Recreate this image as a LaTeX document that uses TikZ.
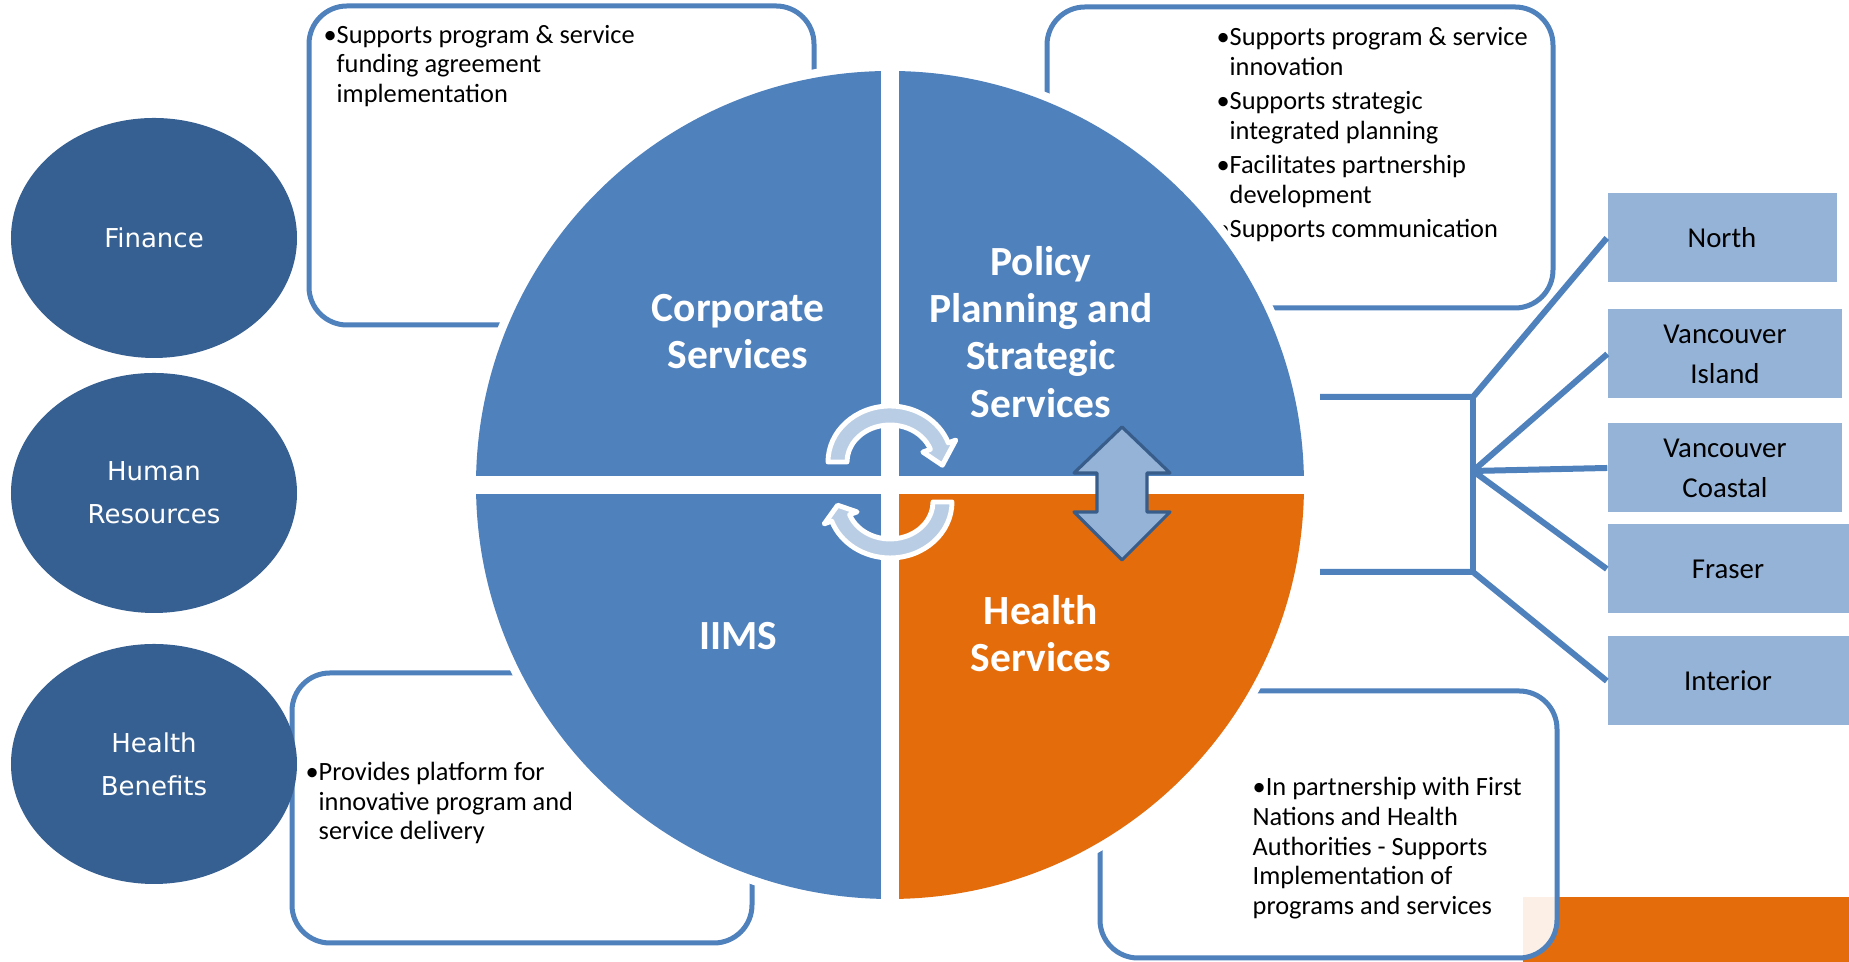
\documentclass[tikz,border=0pt]{standalone}
\usepackage{fontspec}
\setmainfont{Carlito}
\newfontfamily\ovalfont{DejaVu Sans}
\usetikzlibrary{shapes.geometric,calc}

\definecolor{quadblue}{HTML}{4F81BD}
\definecolor{quadorange}{HTML}{E46C0A}
\definecolor{ovalblue}{HTML}{376092}
\definecolor{regionblue}{HTML}{95B3D7}
\definecolor{arrowedge}{HTML}{385D8A}
\definecolor{cyclefill}{HTML}{B9CDE5}

\tikzset{
  infobox/.style={draw=quadblue, line width=0.05cm, rounded corners=0.38cm,
    fill=white, fill opacity=0.9, inner sep=0pt},
  bodytext/.style={anchor=north west, inner sep=0pt, align=left,
    font=\fontsize{7.5}{8.4}\selectfont},
  quadlabel/.style={text=white, align=center, inner sep=0pt,
    font=\fontsize{11.8}{13.4}\bfseries\selectfont},
  deptoval/.style={ellipse, fill=ovalblue, minimum width=2.86cm, minimum height=2.40cm,
    inner sep=0pt, text=white, align=center, font=\ovalfont\fontsize{7.4}{12.3}\selectfont},
  regionbox/.style={fill=regionblue, minimum height=0.89cm, inner sep=0pt, align=center,
    font=\fontsize{8.2}{11.4}\selectfont},
  link/.style={draw=quadblue, line width=0.06cm},
  cyclearrow/.style={fill=cyclefill, draw=white, line width=1.4pt, line join=round},
  swaparrow/.style={fill=regionblue, draw=arrowedge, line width=0.9pt, line join=round}
}

\begin{document}
\begin{tikzpicture}
  \useasboundingbox (0,0) rectangle (18.49,9.62);
  \fill[white] (0,0) rectangle (18.49,9.62);
  \fill[quadorange] (15.23,0) rectangle (18.49,0.65);

  % text boxes round the wheel
  \node[infobox, minimum width=5.05cm, minimum height=3.19cm] (corpbox) at (5.615,7.965) {};
  \node[infobox, minimum width=5.06cm, minimum height=3.01cm] (policybox) at (13.00,8.045) {};
  \node[infobox, minimum width=4.60cm, minimum height=2.70cm] (iimsbox) at (5.22,1.54) {};
  \node[infobox, minimum width=4.57cm, minimum height=2.67cm] (healthbox) at (13.285,1.375) {};

  \node[bodytext] (corptext) at (3.36,9.375)
    {\llap{•}Supports program \& service\\funding agreement\\implementation};
  \node[bodytext] (policytext) at (12.29,9.35)
    {\llap{•}Supports program \& service\\innovation\\[1.4pt]
     \llap{•}Supports strategic\\integrated planning\\[1.4pt]
     \llap{•}Facilitates partnership\\development\\[1.4pt]
     \llap{•}Supports communication};
  \node[bodytext] (iimstext) at (3.18,2.005)
    {\llap{•}Provides platform for\\innovative program and\\service delivery};
  \node[bodytext] (healthtext) at (12.52,1.85)
    {•In partnership with First\\Nations and Health\\Authorities - Supports\\Implementation of\\programs and services};

  % the wheel
  \coordinate (wheel) at (8.90,4.77);
  \draw[white, line width=0.09cm] (wheel) circle (4.18);
  \fill[quadblue] (wheel) -- ++(90:4.14) arc[start angle=90, end angle=180, radius=4.14] -- cycle;
  \fill[quadblue] (wheel) -- ++(0:4.14) arc[start angle=0, end angle=90, radius=4.14] -- cycle;
  \fill[quadblue] (wheel) -- ++(180:4.14) arc[start angle=180, end angle=270, radius=4.14] -- cycle;
  \fill[quadorange] (wheel) -- ++(270:4.14) arc[start angle=270, end angle=360, radius=4.14] -- cycle;
  \fill[white] ($(wheel)+(-4.2,-0.09)$) rectangle ($(wheel)+(4.2,0.09)$);
  \fill[white] ($(wheel)+(-0.09,-4.2)$) rectangle ($(wheel)+(0.09,4.2)$);

  \node[quadlabel] (corporate) at (7.38,6.30) {Corporate\\Services};
  \node[quadlabel] (policy) at (10.41,6.30) {Policy\\Planning and\\Strategic\\Services};
  \node[quadlabel] (iims) at (7.38,3.26) {IIMS};
  \node[quadlabel] (health) at (10.41,3.28) {Health\\Services};

  % turning arrows in the middle
  \coordinate (topturn) at (8.90,5.00);
  \coordinate (botturn) at (8.90,4.60);
  \draw[cyclearrow] ($(topturn)+(180:0.62 and 0.56)$)
    arc[start angle=180, end angle=20, x radius=0.62, y radius=0.56]
    -- ($(topturn)+(20:0.70 and 0.64)$) -- ($(topturn)+(-4:0.525 and 0.465)$)
    -- ($(topturn)+(20:0.35 and 0.29)$) -- ($(topturn)+(20:0.43 and 0.37)$)
    arc[start angle=20, end angle=180, x radius=0.43, y radius=0.37] -- cycle;
  \draw[cyclearrow] ($(botturn)+(0:0.62 and 0.56)$)
    arc[start angle=0, end angle=-160, x radius=0.62, y radius=0.56]
    -- ($(botturn)+(-160:0.70 and 0.64)$) -- ($(botturn)+(-176:0.525 and 0.465)$)
    -- ($(botturn)+(-160:0.35 and 0.29)$) -- ($(botturn)+(-160:0.43 and 0.37)$)
    arc[start angle=-160, end angle=0, x radius=0.43, y radius=0.37] -- cycle;

  % up and down arrow
  \coordinate (swap) at (11.22,4.685);
  \draw[swaparrow] ($(swap)+(0,0.665)$) -- ++(0.48,-0.46) -- ++(-0.23,0) -- ++(0,-0.39)
    -- ++(0.23,0) -- ++(-0.48,-0.48) -- ++(-0.48,0.48) -- ++(0.23,0) -- ++(0,0.39)
    -- ++(-0.23,0) -- cycle;

  % support branches
  \node[deptoval] (finance) at (1.54,7.24) {Finance};
  \node[deptoval] (hr) at (1.54,4.69) {Human\\Resources};
  \node[deptoval] (benefits) at (1.54,1.98) {Health\\Benefits};

  % regions
  \node[regionbox, minimum width=2.29cm] (north) at (17.22,7.24) {North};
  \node[regionbox, minimum width=2.34cm] (island) at (17.25,6.08) {Vancouver\\Island};
  \node[regionbox, minimum width=2.34cm] (coastal) at (17.25,4.94) {Vancouver\\Coastal};
  \node[regionbox, minimum width=2.41cm] (fraser) at (17.28,3.93) {Fraser};
  \node[regionbox, minimum width=2.41cm] (interior) at (17.28,2.81) {Interior};

  \coordinate (upstub) at (13.20,5.65);
  \coordinate (upknee) at (14.73,5.65);
  \coordinate (lowstub) at (13.20,3.90);
  \coordinate (lowknee) at (14.73,3.90);
  \coordinate (fork) at (14.73,4.91);
  \draw[link] (upstub) -- (upknee) -- (north.west);
  \draw[link] (lowstub) -- (lowknee) -- (interior.west);
  \draw[link] (upknee) -- (lowknee);
  \draw[link] (fork) -- (island.west);
  \draw[link] (fork) -- (coastal.west);
  \draw[link] (fork) -- (fraser.west);
\end{tikzpicture}
\end{document}
